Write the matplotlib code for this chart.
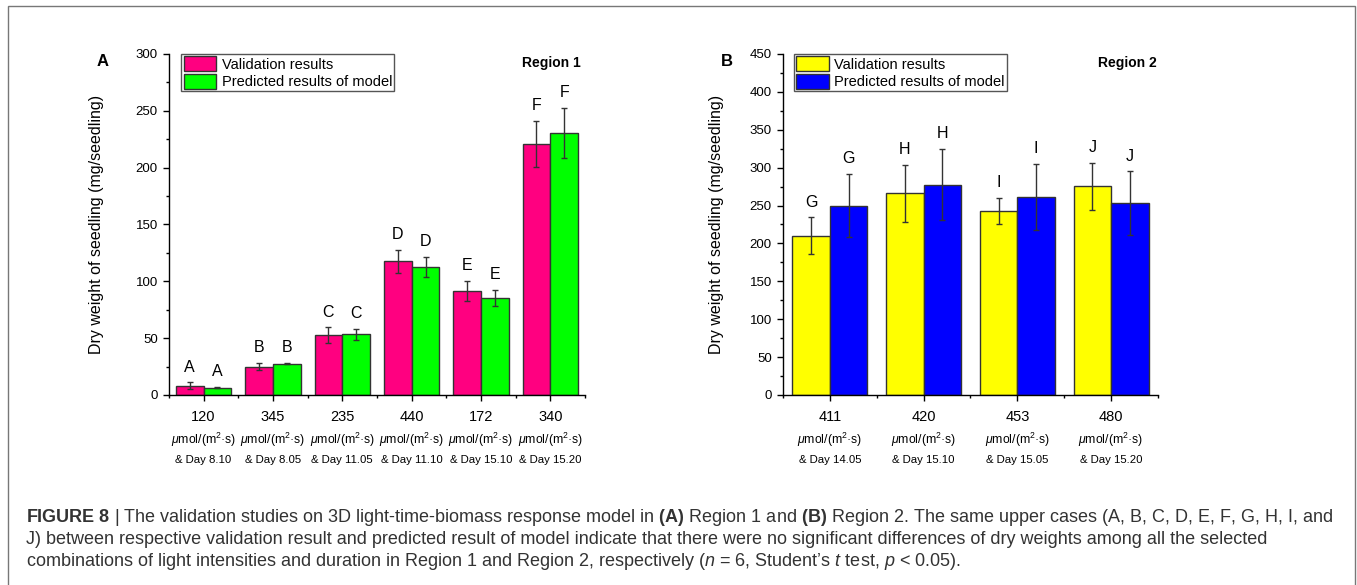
import matplotlib
matplotlib.use('Agg')
import matplotlib.pyplot as plt
import numpy as np
from matplotlib.ticker import MultipleLocator
from matplotlib.patches import Rectangle

plt.rcParams['font.family'] = ['Liberation Sans', 'DejaVu Sans']
plt.rcParams['mathtext.fontset'] = 'custom'
plt.rcParams['mathtext.rm'] = 'Liberation Sans'
plt.rcParams['mathtext.it'] = 'Liberation Sans:italic'
plt.rcParams['mathtext.bf'] = 'Liberation Sans:bold'

# Region 1 data
r1_light = ['120', '345', '235', '440', '172', '340']
r1_day = ['& Day 8.10', '& Day 8.05', '& Day 11.05', '& Day 11.10', '& Day 15.10', '& Day 15.20']
r1_valid = [8, 25, 52.5, 117.5, 91.5, 221]
r1_valid_err = [3, 3, 7, 10, 9, 20]
r1_pred = [6.5, 27.5, 53.5, 112.5, 85.5, 230.5]
r1_pred_err = [0.5, 0.5, 4.7, 8.8, 7, 22]
r1_letters = ['A', 'B', 'C', 'D', 'E', 'F']

# Region 2 data
r2_light = ['411', '420', '453', '480']
r2_day = ['& Day 14.05', '& Day 15.10', '& Day 15.05', '& Day 15.20']
r2_valid = [210, 266, 243, 275.5]
r2_valid_err = [24.5, 37.5, 17.6, 30.8]
r2_pred = [250, 277.5, 261, 253]
r2_pred_err = [41.7, 47, 43.5, 42]
r2_letters = ['G', 'H', 'I', 'J']

unit = '$\\mu$mol/(m$^2$·s)'

fig = plt.figure(figsize=(13.57, 5.85), dpi=100)


def draw_panel(ax, light, day, valid, verr, pred, perr, letters, c1, c2, ymax, region):
    x = np.arange(1, len(light) + 1)
    w = 0.4
    ekw = dict(ecolor='#333333', elinewidth=1, capsize=2.5, capthick=1)
    ax.bar(x - w / 2, valid, w, yerr=verr, color=c1, edgecolor='#333333',
           linewidth=1, error_kw=ekw, label='Validation results')
    ax.bar(x + w / 2, pred, w, yerr=perr, color=c2, edgecolor='#333333',
           linewidth=1, error_kw=ekw, label='Predicted results of model')
    for i in range(len(x)):
        ax.annotate(letters[i], (x[i] - w / 2, valid[i] + verr[i]), xytext=(0, 11),
                    textcoords='offset points', ha='center', va='center', fontsize=11.5)
        ax.annotate(letters[i], (x[i] + w / 2, pred[i] + perr[i]), xytext=(0, 11),
                    textcoords='offset points', ha='center', va='center', fontsize=11.5)
        ax.annotate(light[i], (x[i], 0), xycoords=('data', 'axes fraction'), xytext=(0, -16),
                    textcoords='offset points', ha='center', va='center', fontsize=10.5)
        ax.annotate(unit, (x[i], 0), xycoords=('data', 'axes fraction'), xytext=(0, -32.5),
                    textcoords='offset points', ha='center', va='center', fontsize=8.8)
        ax.annotate(day[i], (x[i], 0), xycoords=('data', 'axes fraction'), xytext=(0, -46.5),
                    textcoords='offset points', ha='center', va='center', fontsize=8.2)

    ax.set_xlim(0.5, len(x) + 0.5)
    ax.set_ylim(0, ymax)
    ax.set_xticks(x)
    ax.set_xticklabels([])
    ax.xaxis.set_minor_locator(MultipleLocator(0.5))
    ax.yaxis.set_major_locator(MultipleLocator(50))
    ax.yaxis.set_minor_locator(MultipleLocator(25))
    ax.tick_params(which='major', direction='out', length=4.5, width=1, labelsize=9.5)
    ax.tick_params(which='minor', direction='out', length=2.5, width=1)
    ax.spines['top'].set_visible(False)
    ax.spines['right'].set_visible(False)
    for s in ['left', 'bottom']:
        ax.spines[s].set_linewidth(1)
    ax.set_ylabel('Dry weight of seedling (mg/seedling)', fontsize=11.5)
    ax.yaxis.set_label_coords(-0.157, 0.5)
    ax.legend(loc='upper left', bbox_to_anchor=(0.03, 1.0), borderaxespad=0,
              fontsize=10.5, fancybox=False, edgecolor='#555555', framealpha=1,
              handlelength=2.2, handleheight=1.2, borderpad=0.15,
              labelspacing=0.15, handletextpad=0.4)
    ax.text(0.918, 0.974, region, transform=ax.transAxes, ha='center', va='center',
            fontsize=10, fontweight='bold')


axA = fig.add_axes([0.1245, 0.3248, 0.3066, 0.5829])
draw_panel(axA, r1_light, r1_day, r1_valid, r1_valid_err, r1_pred, r1_pred_err,
           r1_letters, '#FF0080', '#00FF00', 300, 'Region 1')
axB = fig.add_axes([0.577, 0.3248, 0.2763, 0.5829])
draw_panel(axB, r2_light, r2_day, r2_valid, r2_valid_err, r2_pred, r2_pred_err,
           r2_letters, '#FFFF00', '#0000FF', 450, 'Region 2')

fig.text(103 / 1357, 1 - 62 / 585, 'A', fontsize=12, fontweight='bold', ha='center', va='center')
fig.text(727 / 1357, 1 - 62 / 585, 'B', fontsize=12, fontweight='bold', ha='center', va='center')

# outer frame
fig.patches.append(Rectangle((8 / 1357, -0.01), (1355 - 8) / 1357, 1 - 6 / 585 + 0.01,
                             transform=fig.transFigure, fill=False,
                             edgecolor='#777777', linewidth=1))

caption = [
    '$\\mathbf{FIGURE\\ 8}$ | The validation studies on 3D light-time-biomass response model in '
    '$\\mathbf{(A)}$ Region 1 and $\\mathbf{(B)}$ Region 2. The same upper cases (A, B, C, D, E, F, G, H, I, and',
    'J) between respective validation result and predicted result of model indicate that there were '
    'no significant differences of dry weights among all the selected',
    'combinations of light intensities and duration in Region 1 and Region 2, respectively '
    '($\\mathit{n}$ = 6, Student\u2019s $\\mathit{t}$ test, $\\mathit{p}$ < 0.05).',
]
for k, line in enumerate(caption):
    fig.text(26 / 1357, 1 - (518 + 22 * k) / 585, line, fontsize=13, color='#333333',
             ha='left', va='center')

fig.savefig('out.png', dpi=100)
